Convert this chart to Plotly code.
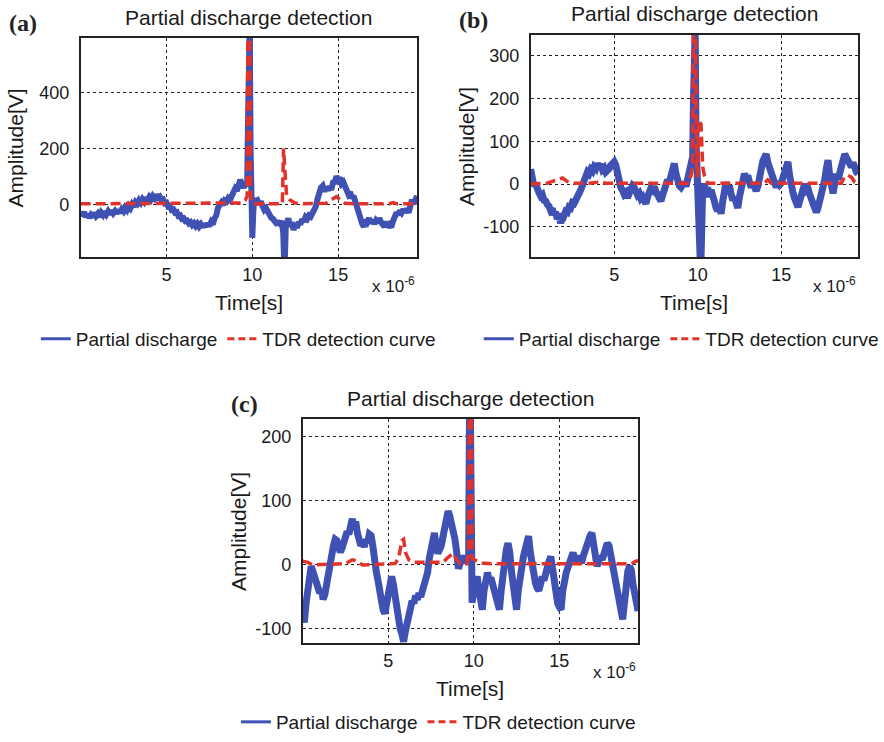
import plotly.graph_objects as go

# ---------------- data (time in microseconds, amplitude in V) ----------------
SERIES_NAMES = ["Partial discharge", "TDR detection curve"]
X_TICKS = [5, 10, 15]
Y_TICKS_A = [0, 200, 400]
Y_TICKS_B = [-100, 0, 100, 200, 300]
Y_TICKS_C = [-100, 0, 100, 200]

# panel (a)
T_A_PD = [0.0, 0.1, 0.2, 0.3, 0.4, 0.5, 0.6, 0.7, 0.8, 0.9, 1.0, 1.1, 1.2, 1.3, 1.4, 1.5, 1.6, 1.7, 1.8, 1.9,
          2.0, 2.1, 2.2, 2.3, 2.4, 2.5, 2.6, 2.7, 2.8, 2.9, 3.0, 3.1, 3.2, 3.3, 3.4, 3.5, 3.6, 3.7, 3.8, 3.9,
          4.0, 4.1, 4.2, 4.3, 4.4, 4.5, 4.6, 4.7, 4.8, 4.9, 5.0, 5.1, 5.2, 5.3, 5.4, 5.5, 5.6, 5.7, 5.8, 5.9,
          6.0, 6.1, 6.2, 6.3, 6.4, 6.5, 6.6, 6.7, 6.8, 6.9, 7.0, 7.1, 7.2, 7.3, 7.4, 7.5, 7.6, 7.7, 7.8, 7.9,
          8.0, 8.1, 8.2, 8.3, 8.4, 8.5, 8.6, 8.7, 8.8, 8.9, 9.0, 9.1, 9.2, 9.3, 9.4, 9.5, 9.6, 9.7, 9.75, 9.8,
          9.85, 9.9, 9.95, 10.0, 10.05, 10.1, 10.2, 10.3, 10.4, 10.5, 10.6, 10.7, 10.8, 10.9, 11.0, 11.1, 11.2,
          11.3, 11.4, 11.5, 11.6, 11.7, 11.8, 11.85, 11.9, 11.95, 12.0, 12.1, 12.2, 12.3, 12.4, 12.5, 12.6,
          12.7, 12.8, 12.9, 13.0, 13.1, 13.2, 13.3, 13.4, 13.5, 13.6, 13.7, 13.8, 13.9, 14.0, 14.1, 14.2, 14.3,
          14.4, 14.5, 14.6, 14.7, 14.8, 14.9, 15.0, 15.1, 15.2, 15.3, 15.4, 15.5, 15.6, 15.7, 15.8, 15.9, 16.0,
          16.1, 16.2, 16.3, 16.4, 16.5, 16.6, 16.7, 16.8, 16.9, 17.0, 17.1, 17.2, 17.3, 17.4, 17.5, 17.6, 17.7,
          17.8, 17.9, 18.0, 18.1, 18.2, 18.3, 18.4, 18.5, 18.6, 18.7, 18.8, 18.9, 19.0, 19.1, 19.2, 19.3, 19.4,
          19.5, 19.6]
V_A_PD = [-30, -40, -28, -45, -35, -48, -38, -46, -30, -42, -34, -45, -30, -38, -26, -36, -25, -35, -22, -32,
          -24, -33, -20, -30, -18, -25, -12, -20, -6, -14, 0, -8, 8, 2, 14, 6, 18, 10, 24, 14,
          26, 18, 30, 22, 34, 24, 28, 16, 18, 4, 6, -8, -6, -20, -18, -30, -28, -42, -40, -52,
          -50, -60, -58, -68, -64, -74, -68, -78, -70, -80, -72, -82, -70, -80, -68, -78, -64, -72, -50, -40,
          -12, -4, 6, -2, 14, 10, 22, 16, 34, 40, 56, 48, 70, 88, 72, 60, 74, 64, 300, 650,
          650, 200, -60, -120, -40, 20, 10, 14, 0, 10, -6, -20, -14, -30, -40, -48, -52,
          -58, -68, -66, -70, -60, -100, -195, -190, -80, -60, -50, -80, -64, -92, -70, -84,
          -64, -72, -54, -62, -46, -52, -40, -44, -30, -20, -8, 20, 50, 60, 66, 46, 62,
          50, 64, 52, 78, 80, 100, 88, 96, 74, 80, 60, 58, 36, 44, 22, 30, 6,
          -10, -30, -46, -70, -80, -56, -64, -50, -68, -56, -70, -58, -66, -50, -64, -70, -80,
          -62, -82, -74, -82, -60, -44, -30, -38, -22, -30, -18, -28, -16, -30, -8, 16, 2,
          14, 30]
T_A_TDR = [0.0, 5.0, 9.0, 9.4, 9.6, 9.7, 9.75, 9.85, 9.9, 10.0, 11.75, 11.82, 11.9, 12.0, 12.2, 12.5, 13.0,
           14.3, 14.7, 14.9, 15.1, 15.4, 16.0, 18.0, 18.2, 18.4, 19.6]
V_A_TDR = [2, 2, 2, 5, 15, 30, 700, 700, 30, 2, 2, 200, 120, 30, 15, 5, 2,
           4, 20, 28, 18, 4, 2, 2, 6, 2, 2]

# panel (b)
T_B_PD = [0.0, 0.1, 0.2, 0.3, 0.4, 0.5, 0.6, 0.7, 0.8, 0.9, 1.0, 1.1, 1.2, 1.3, 1.4, 1.5, 1.6, 1.7, 1.8, 1.9,
          2.0, 2.1, 2.2, 2.3, 2.4, 2.5, 2.6, 2.7, 2.8, 2.9, 3.0, 3.1, 3.2, 3.3, 3.4, 3.5, 3.6, 3.7, 3.8, 3.9,
          4.0, 4.1, 4.2, 4.3, 4.4, 4.5, 4.6, 4.7, 4.8, 4.9, 5.0, 5.1, 5.2, 5.3, 5.4, 5.5, 5.6, 5.7, 5.8, 5.9,
          6.0, 6.1, 6.2, 6.3, 6.4, 6.5, 6.6, 6.7, 6.8, 6.9, 7.0, 7.1, 7.2, 7.3, 7.4, 7.5, 7.6, 7.7, 7.8, 7.9,
          8.0, 8.1, 8.2, 8.3, 8.4, 8.5, 8.6, 8.7, 8.8, 8.9, 9.0, 9.1, 9.2, 9.3, 9.4, 9.5, 9.6, 9.7, 9.75, 9.8,
          9.85, 9.9, 9.95, 10.0, 10.1, 10.15, 10.2, 10.25, 10.3, 10.4, 10.5, 10.6, 10.7, 10.8, 10.9, 11.0,
          11.1, 11.2, 11.3, 11.4, 11.5, 11.6, 11.7, 11.8, 11.9, 12.0, 12.1, 12.2, 12.3, 12.4, 12.5, 12.6,
          12.7, 12.8, 12.9, 13.0, 13.1, 13.2, 13.3, 13.4, 13.5, 13.6, 13.7, 13.8, 13.9, 14.0, 14.1, 14.2,
          14.3, 14.4, 14.5, 14.6, 14.7, 14.8, 14.9, 15.0, 15.1, 15.2, 15.3, 15.4, 15.5, 15.6, 15.7, 15.8,
          15.9, 16.0, 16.1, 16.2, 16.3, 16.4, 16.5, 16.6, 16.7, 16.8, 16.9, 17.0, 17.1, 17.2, 17.3, 17.4,
          17.5, 17.6, 17.7, 17.8, 17.9, 18.0, 18.1, 18.2, 18.3, 18.4, 18.5, 18.6, 18.7, 18.8, 18.9, 19.0,
          19.1, 19.2, 19.3, 19.4, 19.5, 19.6]
V_B_PD = [35, 10, -5, 0, -15, -20, -28, -25, -38, -40, -48, -52, -62, -58, -72, -66, -82, -76, -92, -70,
          -74, -64, -66, -54, -56, -44, -46, -34, -30, -22, -14, -4, 10, 20, 28, 24, 34, 30, 40, 36,
          48, 40, 46, 34, 38, 28, 30, 36, 44, 50, 52, 44, 20, 6, -8, -15, -24, -20, -32, -22,
          -16, -4, -8, -18, -26, -22, -34, -30, -40, -46, -30, -20, -10, -14, -6, -18, -26, -32, -40, -26,
          -14, -2, 10, 4, 24, 36, 48, 24, 6, -4, -8, -2, 4, -6, 16, 40, 50, 64, 200, 360,
          360, 100, 20, -60, -120, -175, -175, -80, -10, 0, -20, -8, -30, -14, -36, -40,
          -56, -62, -50, -70, -40, -10, 4, -14, -4, -24, -38, -30, -50, -56, -30, -10,
          10, 24, 14, 20, 4, -8, 2, -12, -16, -6, 20, 40, 54, 62, 70, 50,
          36, 28, 10, -4, -8, 4, -2, 2, 16, 32, 44, 52, 20, -8, -20, -34,
          -44, -54, -40, -20, -8, 0, -14, -10, -24, -36, -50, -58, -66, -56, -40, -30,
          -10, 10, 36, 56, 20, -10, -22, 0, 24, 10, 30, 44, 60, 70, 62, 56,
          52, 40, 50, 34, 28, 24]
T_B_TDR = [0.0, 1.0, 1.3, 1.6, 1.9, 2.2, 2.5, 3.5, 4.2, 4.5, 9.4, 9.6, 9.7, 9.75, 9.85, 9.95, 10.0, 10.05,
           10.2, 10.3, 10.4, 10.6, 14.0, 14.2, 14.4, 18.6, 18.8, 19.0, 19.2, 19.4, 19.6]
V_B_TDR = [0, 2, 6, 10, 14, 6, 2, 2, 5, 2, 2, 20, 40, 420, 420, 20, 20, 150,
           140, 40, 20, 2, 2, 10, 2, 2, 18, 20, 16, 4, 2]

# panel (c)
T_C_PD = [0.0, 0.1, 0.2, 0.3, 0.4, 0.5, 0.6, 0.7, 0.8, 0.9, 1.0, 1.1, 1.2, 1.3, 1.4, 1.5, 1.6, 1.7, 1.8, 1.9,
          2.0, 2.1, 2.2, 2.3, 2.4, 2.5, 2.6, 2.7, 2.8, 2.9, 3.0, 3.1, 3.2, 3.3, 3.4, 3.5, 3.6, 3.7, 3.8, 3.9,
          4.0, 4.1, 4.2, 4.3, 4.4, 4.5, 4.6, 4.7, 4.8, 4.9, 5.0, 5.1, 5.2, 5.3, 5.4, 5.5, 5.6, 5.7, 5.8, 5.9,
          6.0, 6.1, 6.2, 6.3, 6.4, 6.5, 6.6, 6.7, 6.8, 6.9, 7.0, 7.1, 7.2, 7.3, 7.4, 7.5, 7.6, 7.7, 7.8, 7.9,
          8.0, 8.1, 8.2, 8.3, 8.4, 8.5, 8.6, 8.7, 8.8, 8.9, 9.0, 9.1, 9.2, 9.3, 9.4, 9.5, 9.6, 9.7, 9.75, 9.8,
          9.85, 9.9, 10.0, 10.1, 10.2, 10.3, 10.4, 10.5, 10.6, 10.7, 10.8, 10.9, 11.0, 11.1, 11.2, 11.3,
          11.4, 11.5, 11.6, 11.7, 11.8, 11.9, 12.0, 12.1, 12.2, 12.3, 12.4, 12.5, 12.6, 12.7, 12.8, 12.9,
          13.0, 13.1, 13.2, 13.3, 13.4, 13.5, 13.6, 13.7, 13.8, 13.9, 14.0, 14.1, 14.2, 14.3, 14.4, 14.5,
          14.6, 14.7, 14.8, 14.9, 15.0, 15.1, 15.2, 15.3, 15.4, 15.5, 15.6, 15.7, 15.8, 15.9, 16.0, 16.1,
          16.2, 16.3, 16.4, 16.5, 16.6, 16.7, 16.8, 16.9, 17.0, 17.1, 17.2, 17.3, 17.4, 17.5, 17.6, 17.7,
          17.8, 17.9, 18.0, 18.1, 18.2, 18.3, 18.4, 18.5, 18.6, 18.7, 18.8, 18.9, 19.0, 19.1, 19.2, 19.3,
          19.4, 19.5, 19.6]
V_C_PD = [-70, -90, -60, -40, -20, -2, -10, -20, -28, -34, -44, -38, -54, -46, -30, -10, 10, 24, 30, 40,
          38, 28, 20, 26, 34, 44, 52, 48, 66, 72, 58, 68, 50, 40, 30, 36, 28, 40, 34, 48,
          46, 30, 0, -10, -24, -44, -58, -70, -76, -60, -40, -22, -18, -30, -50, -78, -90, -100, -108, -120,
          -104, -90, -74, -64, -56, -60, -48, -54, -44, -50, -42, -30, -20, -12, 10, 30, 44, 50, 30, 18,
          24, 30, 44, 60, 72, 84, 76, 66, 60, 40, 20, -6, 2, 8, 14, 4, 8, 10, 240, 240,
          100, -59, -40, -30, -18, -40, -60, -70, -40, -20, -12, -24, -20, -30, -40, -48,
          -60, -70, -40, -10, 10, 24, 34, 20, -10, -40, -60, -70, -40, -14, 0, 13,
          24, 36, 45, 20, 0, -14, -28, -36, -40, -30, -18, -24, -10, -2, 6, 13,
          -10, -30, -50, -60, -66, -70, -40, -20, -12, -4, 6, 12, 19, 10, 4, 14,
          8, 3, 14, 24, 30, 40, 46, 50, 36, 20, -2, 6, 14, 8, 20, 28,
          34, 30, 14, 4, -12, -28, -44, -60, -76, -85, -60, -30, -10, -2, -8, -30,
          -44, -64, -72]
T_C_TDR = [0.0, 0.3, 0.6, 2.5, 2.9, 3.2, 3.5, 5.4, 5.6, 5.8, 5.9, 6.0, 6.2, 6.5, 8.2, 8.5, 8.8, 9.0, 9.2,
           9.6, 9.7, 9.75, 9.85, 9.9, 10.2, 10.5, 11.0, 19.2, 19.5, 19.6]
V_C_TDR = [6, 4, 0, 2, 8, 6, 0, 2, 10, 38, 40, 20, 8, 4, 4, 12, 18, 8, 2,
           2, 20, 300, 300, 10, 6, 3, 2, 2, 6, 6]

# ---------------- styling ----------------
W, H = 884, 742
BLUE = "#3f51b3"
RED = "#e2332a"
FONT = "Liberation Sans, Arial, sans-serif"
SERIF = "Liberation Serif, Times New Roman, serif"


def px(x):
    return x / W


def py(y):
    return 1 - y / H


panels = [
    # name, data, plot box (left, right, top, bottom) in px, y range, y ticks, blue width
    ("a", (T_A_PD, V_A_PD, T_A_TDR, V_A_TDR), (81, 419, 38, 257), [-189, 597], Y_TICKS_A, 6),
    ("b", (T_B_PD, V_B_PD, T_B_TDR, V_B_TDR), (533, 862, 35, 257), [-171, 349], Y_TICKS_B, 7),
    ("c", (T_C_PD, V_C_PD, T_C_TDR, V_C_TDR), (304, 641, 419, 643), [-122, 228], Y_TICKS_C, 7),
]

fig = go.Figure()
layout = dict(
    width=W, height=H, margin=dict(l=0, r=0, t=0, b=0),
    paper_bgcolor="white", plot_bgcolor="white",
    font=dict(family=FONT, color="#1a1a1a"),
    annotations=[],
)

legend_pos = [(36, 339), (481, 339), (237, 722)]

for i, (name, (tp, vp, tt, vt), (l, r, t, b), yr, yt, bw) in enumerate(panels):
    sfx = "" if i == 0 else str(i + 1)
    xa, ya = "x" + sfx, "y" + sfx
    leg = "legend" + sfx
    fig.add_trace(go.Scatter(x=tp, y=vp, mode="lines", name=SERIES_NAMES[0], showlegend=False,
                             line=dict(color=BLUE, width=bw), xaxis=xa, yaxis=ya))
    fig.add_trace(go.Scatter(x=tt, y=vt, mode="lines", name=SERIES_NAMES[1], showlegend=False,
                             line=dict(color=RED, width=3.5, dash="10px,5px"),
                             xaxis=xa, yaxis=ya))
    # legend entries (no marks of their own)
    fig.add_trace(go.Scatter(x=[None], y=[None], mode="lines", name=SERIES_NAMES[0],
                             line=dict(color=BLUE, width=3), xaxis=xa, yaxis=ya, legend=leg))
    fig.add_trace(go.Scatter(x=[None], y=[None], mode="lines", name=SERIES_NAMES[1],
                             line=dict(color=RED, width=3, dash="7px,4px"),
                             xaxis=xa, yaxis=ya, legend=leg))
    axcommon = dict(showline=True, linecolor="#222", linewidth=1.5, mirror=True,
                    showgrid=True, gridcolor="#222", gridwidth=1, griddash="dot",
                    zeroline=False, ticks="", tickfont=dict(size=18, family=FONT, color="#1a1a1a"))
    layout["xaxis" + sfx] = dict(axcommon, domain=[px(l), px(r)], range=[0, 19.6],
                                 tickvals=X_TICKS, ticktext=[str(v) for v in X_TICKS],
                                 anchor=ya, ticklabelstandoff=1)
    layout["yaxis" + sfx] = dict(axcommon, domain=[py(b), py(t)], range=yr,
                                 tickvals=yt, ticktext=[str(v) for v in yt],
                                 anchor=xa, ticklabelstandoff=6)
    cx = (l + r) / 2
    ann = layout["annotations"]
    ann.append(dict(text="Partial discharge detection", x=px(cx), y=py(t - 21), xref="paper", yref="paper",
                    showarrow=False, xanchor="center", yanchor="middle", font=dict(size=21)))
    ann.append(dict(text="Time[s]", x=px(cx), y=py(b + 45), xref="paper", yref="paper",
                    showarrow=False, xanchor="center", yanchor="middle", font=dict(size=21)))
    ann.append(dict(text="Amplitude[V]", x=px(l - 65), y=py((t + b) / 2), xref="paper", yref="paper",
                    showarrow=False, xanchor="center", yanchor="middle", textangle=-90, font=dict(size=21)))
    ann.append(dict(text="x 10<sup>-6</sup>", x=px(r - 47), y=py(b + 28), xref="paper", yref="paper",
                    showarrow=False, xanchor="left", yanchor="middle", font=dict(size=17)))
    ann.append(dict(text="<b>(%s)</b>" % name, x=px(l - 74), y=py(t - 15), xref="paper", yref="paper",
                    showarrow=False, xanchor="left", yanchor="middle",
                    font=dict(size=24, family=SERIF, color="#222")))
    lx, lyy = legend_pos[i]
    layout[leg] = dict(orientation="h", x=px(lx), y=py(lyy), xanchor="left", yanchor="middle",
                       font=dict(size=19, family=FONT, color="#1a1a1a"), bgcolor="rgba(0,0,0,0)",
                       itemwidth=30, tracegroupgap=0)

fig.update_layout(**layout)
fig.write_html("out.html")
